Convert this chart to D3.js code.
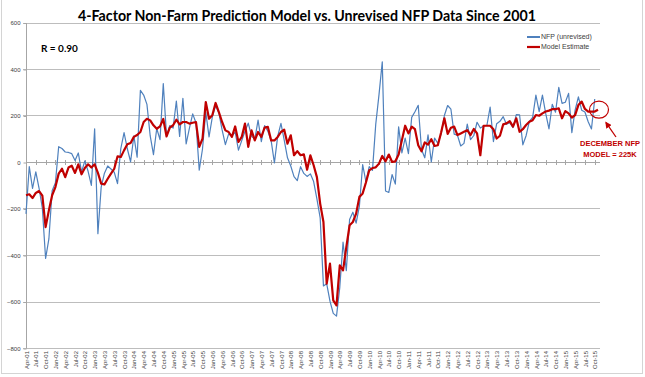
<!DOCTYPE html>
<html>
<head>
<meta charset="utf-8">
<script src="https://cdn.jsdelivr.net/npm/d3@7"></script>
<style>
  html, body { margin: 0; padding: 0; background: #ffffff; }
  svg { display: block; }
</style>
</head>
<body>
<svg id="chart" width="645" height="377"></svg>
<script>
// ---------------- DATA ----------------
const startMonth = { year: 2001, month: 3 }; // Apr-2001 (0-based month)
const nMonths = 176;                        // Apr-01 .. Nov-15

const tickLabels = [
  "Apr-01","Jul-01","Oct-01",
  "Jan-02","Apr-02","Jul-02","Oct-02",
  "Jan-03","Apr-03","Jul-03","Oct-03",
  "Jan-04","Apr-04","Jul-04","Oct-04",
  "Jan-05","Apr-05","Jul-05","Oct-05",
  "Jan-06","Apr-06","Jul-06","Oct-06",
  "Jan-07","Apr-07","Jul-07","Oct-07",
  "Jan-08","Apr-08","Jul-08","Oct-08",
  "Jan-09","Apr-09","Jul-09","Oct-09",
  "Jan-10","Apr-10","Jul-10","Oct-10",
  "Jan-11","Apr-11","Jul-11","Oct-11",
  "Jan-12","Apr-12","Jul-12","Oct-12",
  "Jan-13","Apr-13","Jul-13","Oct-13",
  "Jan-14","Apr-14","Jul-14","Oct-14",
  "Jan-15","Apr-15","Jul-15","Oct-15"
];

const yTicks = [600, 400, 200, 0, -200, -400, -600, -800];

// NFP (unrevised), Apr-01 .. Oct-15
const nfpUnrevised = [
  -223, -20, -114, -42, -113, -199, -415, -331, -124, -89,
  66, 58, 43, 41, 36, 6, 39, -43, 5, -40,
  -101, 143, -308, -108, -48, -17, -30, -44, -93, 57,
  126, 57, 1, 112, 21, 308, 288, 248, 112, 32,
  144, 96, 337, 112, 157, 146, 262, 110, 274, 78,
  146, 207, 169, -35, 56, 215, 108, 193, 243, 211,
  138, 75, 121, 113, 128, 51, 92, 132, 167, 111,
  97, 180, 88, 157, 132, 92, -4, 110, 166, 94,
  18, -17, -63, -80, -20, -49, -62, -51, -84, -159,
  -240, -533, -524, -598, -651, -663, -539, -345, -467, -247,
  -216, -263, -190, -11, -85, -20, -36, 162, 290, 431,
  -125, -131, -54, -95, 151, 39, 103, 36, 192, 216,
  244, 54, 18, 117, 0, 103, 80, 120, 200, 243,
  227, 120, 115, 69, 80, 163, 96, 114, 171, 146,
  155, 157, 236, 88, 165, 175, 195, 162, 169, 148,
  204, 203, 74, 113, 175, 192, 288, 217, 288, 209,
  142, 248, 214, 321, 252, 257, 295, 126, 223, 280,
  223, 215, 173, 142, 271
];

// Model Estimate, Apr-01 .. Nov-15
const modelEstimate = [
  -143, -139, -155, -133, -125, -145, -280, -208, -143, -108,
  -50, -29, -65, -24, -16, -47, -10, -53, -26, -10,
  -24, -10, -47, -93, -96, -72, -50, -29, 24, 22,
  50, 76, 82, 108, 116, 129, 172, 186, 179, 158,
  143, 153, 185, 110, 148, 158, 182, 162, 172, 172,
  165, 169, 172, 65, 100, 258, 186, 201, 254, 215,
  172, 136, 129, 108, 153, 86, 108, 165, 65, 136,
  93, 129, 108, 148, 151, 93, 93, 108, 129, 139,
  79, 115, 29, 47, 29, 33, -33, 29, -14, -65,
  -179, -258, -523, -437, -595, -617, -445, -466, -366, -272,
  -258, -222, -150, -135, -88, -36, -26, -23, -7, 26,
  3, 32, 0, 3, 32, 94, 156, 123, 152, 141,
  72, 46, 84, 75, 98, 69, 72, 127, 188, 121,
  147, 152, 116, 123, 130, 137, 116, 142, 123, 29,
  156, 156, 156, 141, 101, 113, 162, 166, 176, 152,
  188, 130, 141, 159, 173, 180, 202, 199, 209, 217,
  221, 227, 227, 231, 188, 219, 209, 191, 202, 245,
  260, 228, 217, 217, 217, 225
];

const seriesNames = ["NFP (unrevised)", "Model Estimate"];
const titleText = "4-Factor Non-Farm Prediction Model vs. Unrevised NFP Data Since 2001";
const rText = "R = 0.90";
const noteLines = ["DECEMBER NFP", "MODEL = 225K"];

// ---------------- CHART ----------------
const svg = d3.select("#chart");
const months = d3.range(nMonths);
const monthLabel = i => {
  const d = new Date(startMonth.year, startMonth.month + i, 1);
  return d3.timeFormat("%b-%y")(d);
};
const categories = months.map(monthLabel);

const x = d3.scalePoint().domain(categories).range([26, 598]);
const y = d3.scaleLinear().domain([-800, 600]).range([348, 22.5]);

const blue = "#4f81bd";
const red = "#c00000";
const grid = "#bdbdbd";
const textCol = "#404040";

// chart area border
svg.append("rect")
  .attr("x", 1.5).attr("y", -2).attr("width", 641).attr("height", 375.5)
  .attr("fill", "none").attr("stroke", "#d4d4d4").attr("stroke-width", 1);

// gridlines
svg.append("g").selectAll("line")
  .data(yTicks.filter(v => v !== 0))
  .join("line")
  .attr("x1", 23).attr("x2", 600)
  .attr("y1", d => Math.round(y(d)) + 0.5).attr("y2", d => Math.round(y(d)) + 0.5)
  .attr("stroke", grid).attr("stroke-width", 1);

// y axis
const yAxis = d3.axisLeft(y).tickValues(yTicks).tickSize(3).tickPadding(3).tickFormat(d3.format("d"));
const gy = svg.append("g").attr("transform", "translate(26.5,0.5)").call(yAxis);
gy.select(".domain").attr("stroke", "#a6a6a6").attr("d", `M0,${y(600)}V${y(-800)}`);
gy.selectAll(".tick line").attr("stroke", "#a6a6a6");
gy.selectAll("text").attr("font-family", "Liberation Sans, Arial, sans-serif")
  .attr("font-size", 6).attr("fill", textCol);

// zero axis line with cross ticks
const y0 = Math.round(y(0)) + 0.5;
svg.append("line").attr("x1", 26).attr("x2", 600).attr("y1", y0).attr("y2", y0)
  .attr("stroke", "#a6a6a6").attr("stroke-width", 1);
const labelIdx = tickLabels.map((t, k) => categories[k * 3]);
svg.append("g").selectAll("line")
  .data(labelIdx)
  .join("line")
  .attr("x1", d => Math.round(x(d)) + 0.5).attr("x2", d => Math.round(x(d)) + 0.5)
  .attr("y1", y0 - 2.5).attr("y2", y0 + 2.5)
  .attr("stroke", "#a6a6a6").attr("stroke-width", 1);

// x labels (rotated) at bottom
const xAxis = d3.axisBottom(x).tickValues(labelIdx).tickSize(0).tickPadding(0)
  .tickFormat((d, k) => tickLabels[k]);
const gx = svg.append("g").attr("transform", `translate(0,${y(-800)})`).call(xAxis);
gx.select(".domain").remove();
gx.selectAll("text")
  .attr("font-family", "Liberation Sans, Arial, sans-serif")
  .attr("font-size", 6).attr("fill", textCol)
  .attr("text-anchor", "end")
  .attr("transform", "rotate(-90)")
  .attr("x", -3).attr("y", 0).attr("dy", "0.35em");

// lines
const line = d3.line().x((d, i) => x(categories[i])).y(d => y(d));
svg.append("path").datum(nfpUnrevised)
  .attr("d", line).attr("fill", "none")
  .attr("stroke", blue).attr("stroke-width", 1.2).attr("stroke-linejoin", "round");
svg.append("path").datum(modelEstimate)
  .attr("d", line).attr("fill", "none")
  .attr("stroke", red).attr("stroke-width", 2.2).attr("stroke-linejoin", "round");

// title
svg.append("text").attr("x", 307).attr("y", 21)
  .attr("text-anchor", "middle")
  .attr("font-family", "Lato, Liberation Sans, Arial, sans-serif")
  .attr("font-weight", "bold").attr("font-size", 14.5).attr("fill", "#000")
  .attr("textLength", 458).attr("lengthAdjust", "spacingAndGlyphs")
  .text(titleText);

// R label
svg.append("text").attr("x", 41).attr("y", 52)
  .attr("font-family", "Lato, Liberation Sans, Arial, sans-serif")
  .attr("font-weight", "bold").attr("font-size", 10).attr("fill", "#000")
  .text(rText);

// legend
const leg = svg.append("g");
[blue, red].forEach((c, k) => {
  const ly = 37 + k * 10;
  leg.append("line").attr("x1", 527).attr("x2", 540).attr("y1", ly).attr("y2", ly)
    .attr("stroke", c).attr("stroke-width", k === 0 ? 2 : 2.2);
  leg.append("text").attr("x", 541).attr("y", ly).attr("dy", "0.35em")
    .attr("font-family", "Liberation Sans, Arial, sans-serif")
    .attr("font-size", 7).attr("fill", textCol)
    .text(seriesNames[k]);
});

// annotation
const lastI = modelEstimate.length - 1;
const cx = x(categories[lastI]) + 1, cy = y(modelEstimate[lastI]);
svg.append("ellipse").attr("cx", cx).attr("cy", cy).attr("rx", 9.5).attr("ry", 8.5)
  .attr("fill", "none").attr("stroke", red).attr("stroke-width", 1.2);
svg.append("defs").append("marker")
  .attr("id", "ah").attr("viewBox", "0 0 10 10").attr("refX", 8).attr("refY", 5)
  .attr("markerWidth", 5).attr("markerHeight", 5).attr("orient", "auto")
  .append("path").attr("d", "M0,0L10,5L0,10z").attr("fill", red);
svg.append("line").attr("x1", 616).attr("y1", 137).attr("x2", cx + 7).attr("y2", cy + 13)
  .attr("stroke", red).attr("stroke-width", 1.3).attr("marker-end", "url(#ah)");
noteLines.forEach((t, k) => {
  svg.append("text").attr("x", 610).attr("y", 146 + k * 11)
    .attr("text-anchor", "middle")
    .attr("font-family", "Liberation Sans, Arial, sans-serif")
    .attr("font-weight", "bold").attr("font-size", 7.5).attr("fill", red)
    .text(t);
});
</script>
</body>
</html>
